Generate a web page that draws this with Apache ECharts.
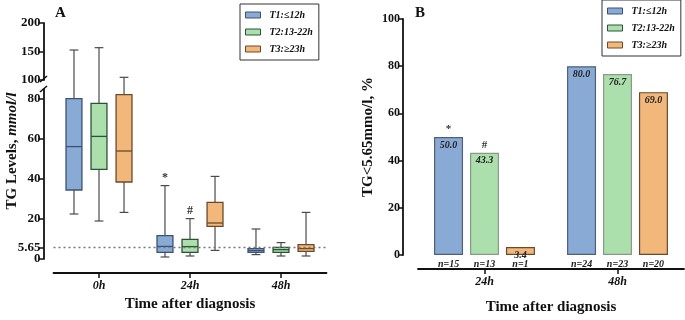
<!DOCTYPE html>
<html>
<head>
<meta charset="utf-8">
<script src="https://cdn.jsdelivr.net/npm/echarts@6/dist/echarts.min.js"></script>
<style>
  html, body { margin: 0; padding: 0; background: #fff; }
  #main { width: 685px; height: 320px; }
</style>
</head>
<body>
<div id="main"></div>
<script>
// 数据
var groupNames = ['0h', '24h', '48h'];
var seriesNames = ['T1:≤12h', 'T2:13-22h', 'T3:≥23h'];
// 每组 [min, Q1, median, Q3, max]
var boxT1 = [[22.5, 34.5, 56.2, 80.2, 152.6], [1.0, 3.3, 6.3, 11.7, 36.7], [2.2, 3.3, 4.2, 5.2, 15.0]];
var boxT2 = [[19.0, 44.8, 61.3, 77.8, 156.7], [1.5, 3.3, 6.2, 9.8, 20.2], [1.5, 3.3, 4.7, 5.8, 8.2]];
var boxT3 = [[23.3, 38.5, 54.0, 82.2, 104.7], [4.3, 16.3, 18.0, 28.3, 41.3], [1.5, 3.8, 5.2, 7.2, 23.3]];
var boxMarksT1 = ['', '*', ''];
var boxMarksT2 = ['', '#', ''];
var boxMarksT3 = ['', '', ''];
var refValue = 5.65;
var lowerTicks = [0, 5.65, 20, 40, 60, 80];
var lowerLabels = [5.65, 20, 40, 60, 80];
var zeroLabel = [0];

var barGroups = ['24h', '48h'];
var pctT1 = [50.0, 80.0];
var pctT2 = [43.3, 76.7];
var pctT3 = [3.4, 69.0];
var nT1 = [15, 24];
var nT2 = [13, 23];
var nT3 = [1, 20];
var barMarksT1 = ['*', ''];
var barMarksT2 = ['#', ''];
var barMarksT3 = ['', ''];

var boxData = [boxT1, boxT2, boxT3];
var boxMarks = [boxMarksT1, boxMarksT2, boxMarksT3];
var pctData = [pctT1, pctT2, pctT3];
var nData = [nT1, nT2, nT3];
var barMarks = [barMarksT1, barMarksT2, barMarksT3];

var fills = ['#8aaad6', '#abdfab', '#f2b77b'];
var strokes = ['#3b5275', '#2f5038', '#6b4a2a'];
var barBorders = ['#4f5f78', '#8a9a8a', '#6b4a2a'];
var whisker = '#4a4a4a';
var FONT = '"Liberation Serif", "Times New Roman", serif';

// 断轴
var LOW_MAX = 85, UP_MIN = 100, UP_MAX = 200;
var upperTop = 23, upperH = 57, lowerTop = 89, lowerH = 170;
var BREAK_GAP = lowerTop - (upperTop + upperH);

var myChart = echarts.init(document.getElementById('main'), null, { renderer: 'canvas' });

function boxRender(k, part) {
    return function (params, api) {
        var cat = api.value(0);
        var d = boxData[k][params.dataIndex];
        var band = api.size([1, 0])[0];
        var off = (k - 1) * band * 0.275;
        var hw = band * 0.175 / 2;
        var cw = hw * 0.55;
        function P(v) { var p = api.coord([cat, v]); return [p[0] + off, p[1]]; }
        var ls = { stroke: whisker, lineWidth: 1.2 };
        var kids = [];
        if (part === 'upper') {
            if (d[4] <= UP_MIN) return null;
            var a = P(UP_MIN), b = P(d[4]);
            kids.push({ type: 'line', shape: { x1: a[0], y1: a[1] + BREAK_GAP, x2: b[0], y2: b[1] }, style: ls });
            kids.push({ type: 'line', shape: { x1: b[0] - cw, y1: b[1], x2: b[0] + cw, y2: b[1] }, style: ls });
            return { type: 'group', children: kids };
        }
        var pMin = P(d[0]), pQ1 = P(d[1]), pMed = P(d[2]), pQ3 = P(d[3]), pTop = P(Math.min(d[4], LOW_MAX));
        var x = pMin[0];
        kids.push({ type: 'line', shape: { x1: x, y1: pMin[1], x2: x, y2: pQ1[1] }, style: ls });
        kids.push({ type: 'line', shape: { x1: x, y1: pQ3[1], x2: x, y2: pTop[1] }, style: ls });
        kids.push({ type: 'line', shape: { x1: x - cw, y1: pMin[1], x2: x + cw, y2: pMin[1] }, style: ls });
        if (d[4] <= LOW_MAX) {
            kids.push({ type: 'line', shape: { x1: x - cw, y1: pTop[1], x2: x + cw, y2: pTop[1] }, style: ls });
        }
        kids.push({
            type: 'rect',
            shape: { x: x - hw, y: pQ3[1], width: hw * 2, height: pQ1[1] - pQ3[1] },
            style: { fill: fills[k], stroke: strokes[k], lineWidth: 1.3 }
        });
        kids.push({ type: 'line', shape: { x1: x - hw, y1: pMed[1], x2: x + hw, y2: pMed[1] }, style: { stroke: strokes[k], lineWidth: 1.3 } });
        var m = boxMarks[k][params.dataIndex];
        if (m) {
            kids.push({
                type: 'text',
                style: { text: m, x: x, y: pTop[1] - 2, align: 'center', verticalAlign: 'bottom', font: 'bold 12px ' + FONT, fill: '#333' }
            });
        }
        return { type: 'group', children: kids };
    };
}

var series = [];
// A 下半部分
for (var k = 0; k < 3; k++) {
    series.push({
        name: seriesNames[k],
        type: 'custom',
        xAxisIndex: 1,
        yAxisIndex: 1,
        itemStyle: { color: fills[k], borderColor: strokes[k], borderWidth: 1 },
        renderItem: boxRender(k, 'lower'),
        data: boxData[k].map(function (b, i) { return [i, b[0], b[1], b[2], b[3], Math.min(b[4], LOW_MAX)]; }),
        z: 3
    });
}
// A 上半部分
for (var k = 0; k < 3; k++) {
    series.push({
        name: seriesNames[k],
        type: 'custom',
        xAxisIndex: 0,
        yAxisIndex: 0,
        itemStyle: { color: fills[k], borderColor: strokes[k], borderWidth: 1 },
        renderItem: boxRender(k, 'upper'),
        data: boxData[k].map(function (b, i) { return [i, Math.max(b[4], UP_MIN)]; }),
        z: 3
    });
}
// 5.65 参考线
series.push({
    name: 'ref',
    type: 'line',
    xAxisIndex: 1,
    yAxisIndex: 1,
    data: [],
    markLine: {
        silent: true,
        symbol: 'none',
        label: { show: false },
        lineStyle: { color: '#777', type: [2, 3], width: 1.3 },
        data: [{ yAxis: refValue }]
    }
});
// B 柱状图
var barLabelFont = { fontFamily: FONT, fontStyle: 'italic', fontWeight: 'bold', fontSize: 10, color: '#222' };
for (var k = 0; k < 3; k++) {
    (function (k) {
        series.push({
            name: 'n' + k,
            type: 'bar',
            stack: 'S' + k,
            stackStrategy: 'all',
            xAxisIndex: 2,
            yAxisIndex: 2,
            barWidth: 29,
            barGap: '24%',
            silent: true,
            itemStyle: { color: 'transparent' },
            label: Object.assign({
                show: true, position: 'bottom', distance: 4,
                formatter: function (p) { return 'n=' + nData[k][p.dataIndex]; }
            }, barLabelFont),
            data: nData[k].map(function () { return 0; })
        });
        series.push({
            name: seriesNames[k],
            type: 'bar',
            stack: 'S' + k,
            stackStrategy: 'all',
            xAxisIndex: 2,
            yAxisIndex: 2,
            barWidth: 29,
            barGap: '24%',
            itemStyle: { color: fills[k], borderColor: barBorders[k], borderWidth: 1.2 },
            label: Object.assign({
                show: true, position: 'insideTop', distance: 3,
                formatter: function (p) { return Number(p.value).toFixed(1); }
            }, barLabelFont),
            data: pctData[k]
        });
        series.push({
            name: 'm' + k,
            type: 'bar',
            stack: 'S' + k,
            stackStrategy: 'all',
            xAxisIndex: 2,
            yAxisIndex: 2,
            barWidth: 29,
            barGap: '24%',
            silent: true,
            itemStyle: { color: 'transparent' },
            label: {
                show: true, position: 'top', distance: 2,
                fontFamily: FONT, fontWeight: 'bold', fontSize: 11, color: '#333',
                formatter: function (p) { return barMarks[k][p.dataIndex]; }
            },
            data: pctData[k].map(function () { return 0; })
        });
    })(k);
}

var axisLabelA = { fontFamily: FONT, fontWeight: 'bold', fontSize: 13, color: '#111' };
var axisLabelB = { fontFamily: FONT, fontWeight: 'bold', fontSize: 12, color: '#111' };
var catLabelStyle = { fontFamily: FONT, fontWeight: 'bold', fontStyle: 'italic', fontSize: 12, color: '#111' };
var axisLineStyle = { show: true, onZero: false, lineStyle: { color: '#111', width: 1.8 } };
var tickStyle = { show: true, length: 5, lineStyle: { color: '#111', width: 1.5 } };
var xNameStyle = { fontFamily: FONT, fontWeight: 'bold', fontSize: 15, color: '#111' };
var legendBase = {
    orient: 'vertical',
    data: seriesNames,
    icon: 'rect',
    itemWidth: 15,
    itemHeight: 6,
    itemGap: 7,
    borderColor: '#333',
    borderWidth: 1,
    padding: [6, 6, 6, 5],
    itemStyle: { borderWidth: 1 },
    textStyle: { fontFamily: FONT, fontStyle: 'italic', fontWeight: 'bold', fontSize: 10, color: '#111', padding: [0, 0, 0, 4] }
};

var option = {
    backgroundColor: '#fff',
    animation: false,
    title: [
        { text: 'A', left: 50, top: 1, textStyle: { fontFamily: FONT, fontWeight: 'bold', fontSize: 15, color: '#111' } },
        { text: 'B', left: 410, top: 1, textStyle: { fontFamily: FONT, fontWeight: 'bold', fontSize: 15, color: '#111' } }
    ],
    legend: [
        Object.assign({}, legendBase, { left: 240, top: 4 }),
        Object.assign({}, legendBase, { left: 602, top: 0 })
    ],
    grid: [
        { left: 53.5, top: upperTop, width: 273, height: upperH },
        { left: 53.5, top: lowerTop, width: 273, height: lowerH },
        { left: 418, top: 19, width: 266, height: 236 }
    ],
    xAxis: [
        { type: 'category', gridIndex: 0, data: groupNames, show: false },
        {
            type: 'category', gridIndex: 1, data: groupNames, offset: 14,
            axisLine: axisLineStyle,
            axisTick: Object.assign({ alignWithLabel: true }, tickStyle),
            axisLabel: Object.assign({ margin: 7 }, catLabelStyle),
            name: 'Time after diagnosis', nameLocation: 'middle', nameGap: 21,
            nameTextStyle: xNameStyle
        },
        {
            type: 'category', gridIndex: 2, data: barGroups, offset: 14,
            axisLine: axisLineStyle,
            axisTick: Object.assign({ alignWithLabel: true }, tickStyle),
            axisLabel: Object.assign({ margin: 7 }, catLabelStyle),
            name: 'Time after diagnosis', nameLocation: 'middle', nameGap: 31,
            nameTextStyle: xNameStyle
        }
    ],
    yAxis: [
        {
            type: 'value', gridIndex: 0, position: 'left', min: UP_MIN, max: UP_MAX, interval: 50, offset: 10,
            axisLine: axisLineStyle, axisTick: tickStyle,
            axisLabel: Object.assign({ margin: 3 }, axisLabelA),
            splitLine: { show: false }
        },
        {
            type: 'value', gridIndex: 1, position: 'left', min: 0, max: LOW_MAX, offset: 10,
            axisLine: axisLineStyle,
            axisTick: Object.assign({ customValues: lowerTicks }, tickStyle),
            axisLabel: Object.assign({ margin: 3, customValues: lowerLabels }, axisLabelA),
            splitLine: { show: false }
        },
        {
            type: 'value', gridIndex: 2, position: 'left', min: 0, max: 100, interval: 20, offset: 15,
            axisLine: axisLineStyle, axisTick: tickStyle,
            axisLabel: Object.assign({ margin: 3 }, axisLabelB),
            splitLine: { show: false },
            name: 'TG<5.65mmo/l, %', nameLocation: 'middle', nameGap: 27,
            nameTextStyle: { fontFamily: FONT, fontWeight: 'bold', fontSize: 15, color: '#111' }
        },
        {
            // 0 刻度标签（与 5.65 太近，单独放一条轴）
            type: 'value', gridIndex: 1, position: 'left', min: 0, max: LOW_MAX, offset: 10,
            axisLine: { show: false }, axisTick: { show: false },
            axisLabel: Object.assign({ margin: 3, customValues: zeroLabel }, axisLabelA),
            splitLine: { show: false }
        }
    ],
    graphic: [
        {
            type: 'text', x: 12, y: 151, rotation: Math.PI / 2,
            style: {
                text: '{b|TG Levels, }{i|mmol/l}',
                align: 'center', verticalAlign: 'middle',
                rich: {
                    b: { fontFamily: FONT, fontWeight: 'bold', fontSize: 15, fill: '#111' },
                    i: { fontFamily: FONT, fontWeight: 'bold', fontStyle: 'italic', fontSize: 15, fill: '#111' }
                }
            }
        },
        { type: 'line', shape: { x1: 40, y1: 82, x2: 47, y2: 76 }, style: { stroke: '#111', lineWidth: 1.6 } },
        { type: 'line', shape: { x1: 40, y1: 92, x2: 47, y2: 86 }, style: { stroke: '#111', lineWidth: 1.6 } }
    ],
    series: series
};

myChart.setOption(option);
</script>
</body>
</html>
